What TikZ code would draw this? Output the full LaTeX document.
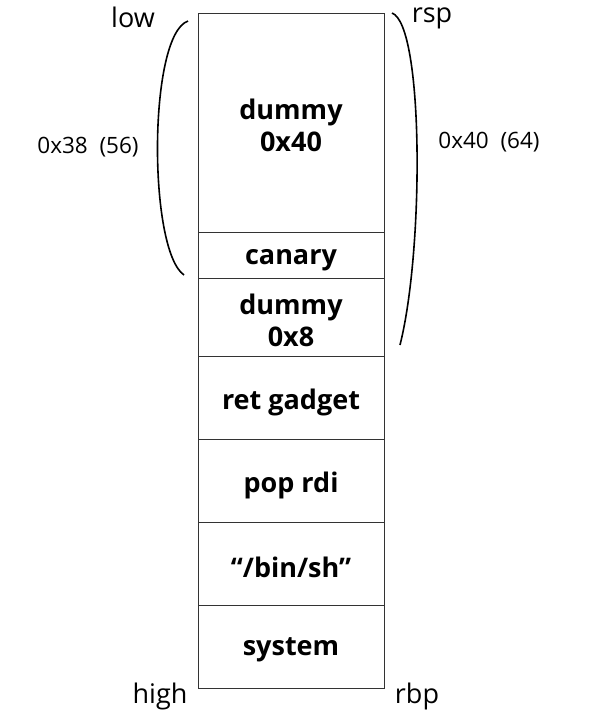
\documentclass[tikz,border=0pt]{standalone}
\usepackage{fontspec}
\setmainfont{Open Sans}
\begin{document}
\begin{tikzpicture}[x=1pt,y=-1pt,
  cell/.style={draw=black!80,line width=1pt},
  lbl/.style={font=\bfseries\fontsize{27}{32}\selectfont,align=center,inner sep=0pt},
  side/.style={font=\fontsize{27}{30}\selectfont,inner sep=0pt},
  size/.style={font=\fontsize{22.5}{26}\selectfont,inner sep=0pt},
  brace/.style={line width=1.6pt}]
\useasboundingbox (0,0) rectangle (597,716);
\foreach \a/\b/\n in {13/232/r1,232/278/r2,278/356/r3,356/439/r4,439/522/r5,522/605/r6,605/688/r7}{
  \draw[cell] (198,\a) rectangle (384,\b);
}
\node[lbl] (dummy1) at (291,125) {dummy\\0x40};
\node[lbl] (canary) at (291,260) {canary};
\node[lbl] (dummy2) at (291,320) {dummy\\0x8};
\node[lbl] (ret) at (291,402) {ret gadget};
\node[lbl] (pop) at (291,485) {pop rdi};
\node[lbl] (binsh) at (291,567) {“/bin/sh”};
\node[lbl] (sys) at (291,650) {system};
\node[side] (low) at (133,17) {low};
\node[side] (rsp) at (432,18) {rsp};
\node[side] (high) at (160,696) {high};
\node[side] (rbp) at (417,696) {rbp};
\node[size] (s38) at (88,147) {0x38\ \ (56)};
\node[size] (s40) at (489,142) {0x40\ \ (64)};
\coordinate (la) at (188,21);
\coordinate (lb) at (184,275);
\draw[brace] (la) .. controls (148,35) and (148,250) .. (lb);
\coordinate (ra) at (392,13);
\coordinate (rb) at (400,345);
\draw[brace] (ra) .. controls (424,25) and (424,250) .. (rb);
\end{tikzpicture}
\end{document}
